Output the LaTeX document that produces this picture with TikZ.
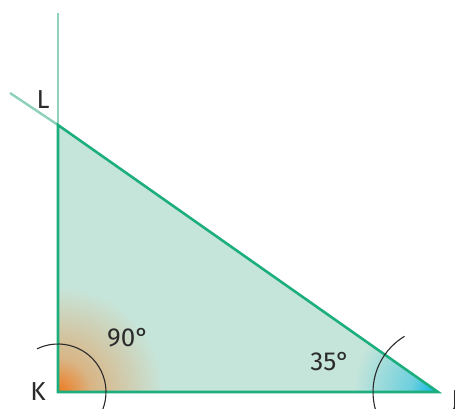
\documentclass[tikz,border=0pt]{standalone}
\usepackage{fontspec}
\setmainfont{Fira Sans}
\definecolor{sidegreen}{HTML}{1DAE7E}
\definecolor{paleline}{HTML}{8FD1B9}
\definecolor{trifill}{HTML}{C6E5DA}
\definecolor{korange}{HTML}{EF7A1E}
\definecolor{jblue}{HTML}{00B5E2}
\definecolor{inkgrey}{HTML}{2B2B2B}
\colorlet{kmid}{korange!45!trifill}
\colorlet{jmid}{jblue!45!trifill}
\pgfdeclareradialshading{kglow}{\pgfpoint{0bp}{0bp}}{color(0bp)=(korange); color(8bp)=(kmid); color(25bp)=(trifill); color(50bp)=(trifill)}
\pgfdeclareradialshading{jglow}{\pgfpoint{0bp}{0bp}}{color(0bp)=(jblue); color(8bp)=(jmid); color(25bp)=(trifill); color(50bp)=(trifill)}
\begin{document}
\begin{tikzpicture}[x=1pt,y=-1pt,
    side/.style={sidegreen,line width=2.6pt},
    extline/.style={paleline,line width=2.4pt},
    anglearc/.style={inkgrey,line width=1.1pt},
    lbl/.style={inkgrey,font=\fontsize{26}{30}\selectfont,inner sep=0pt}]
  \useasboundingbox (0,0) rectangle (455,408);
  \coordinate (K) at (58,392);
  \coordinate (L) at (58,125);
  \coordinate (J) at (438,392);
  \coordinate (top) at (58,13);
  \coordinate (ext) at (10,93);
  % triangle fill with shaded corners
  \fill[trifill] (K) -- (L) -- (J) -- cycle;
  \begin{scope}
    \clip (K) -- (L) -- (J) -- cycle;
    \shade[shading=kglow] (K) circle (105);
    \shade[shading=jglow] (J) circle (85);
  \end{scope}
  % extension lines
  \draw[extline] (L) -- (top);
  \draw[extline] (L) -- (ext);
  % sides
  \draw[side,line join=miter] (L) -- (K) -- (J) -- cycle;
  % angle arcs (y axis points down, so angles are mirrored)
  \draw[anglearc] (K) ++(-116:48) arc (-116:22:48);
  \draw[anglearc] (J) ++(-121:65) arc (-121:-197:65);
  % labels
  \node[lbl] (labK) at (38,392) {K};
  \node[lbl] (labL) at (43,100) {L};
  \node[lbl,anchor=west] (labJ) at (451,401) {J};
  \node[lbl] (ang90) at (128,338) {90°};
  \node[lbl] (ang35) at (330,362) {35°};
\end{tikzpicture}
\end{document}
